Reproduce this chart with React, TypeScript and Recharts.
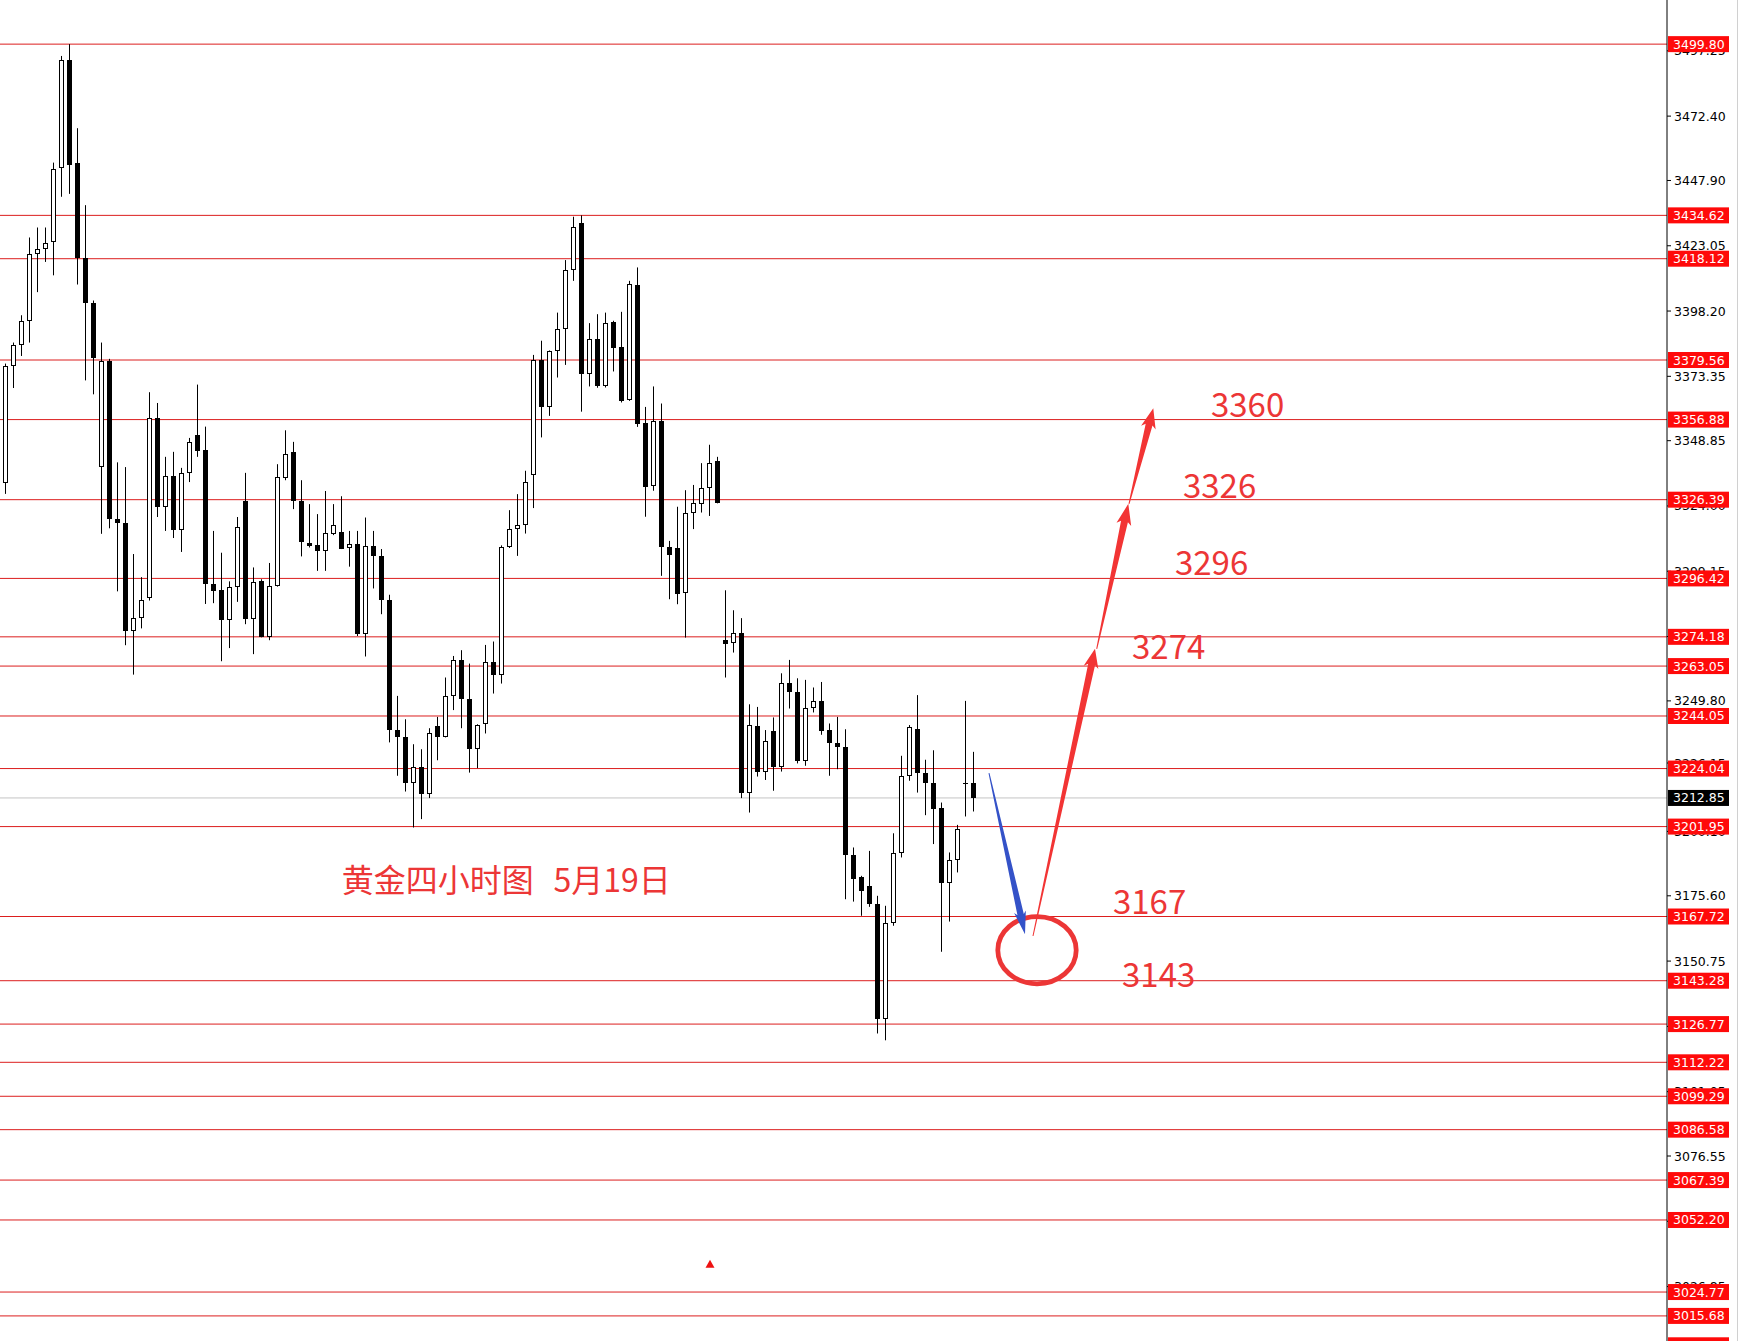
import React from 'react';
import { ComposedChart, Bar, XAxis, YAxis, ReferenceLine, ReferenceArea, ReferenceDot } from 'recharts';

// ---- candle data (4H gold), index 0..122 ----
const OPEN = [
  3327.5, 3332.6, 3377.1, 3385.1, 3394.5, 3420.1, 3422.0, 3424.6, 3452.8, 3493.9,
  3454.4, 3418.5, 3401.4, 3339.0, 3379.2, 3319.0, 3317.7, 3276.3, 3281.4, 3289.1,
  3357.4, 3323.5, 3335.3, 3315.0, 3336.6, 3351.0, 3345.4, 3294.2, 3292.1, 3280.6,
  3293.1, 3325.7, 3280.9, 3295.5, 3274.3, 3293.5, 3334.8, 3344.6, 3325.9, 3309.9,
  3309.2, 3306.7, 3313.5, 3314.0, 3307.9, 3309.5, 3275.4, 3308.8, 3305.0, 3288.1,
  3238.6, 3236.2, 3218.5, 3224.8, 3214.3, 3240.3, 3236.2, 3251.7, 3265.3, 3250.4,
  3231.4, 3240.9, 3264.7, 3259.7, 3308.3, 3315.2, 3316.7, 3335.6, 3379.5, 3361.5,
  3382.9, 3391.3, 3413.9, 3431.6, 3374.4, 3387.5, 3369.5, 3394.1, 3384.6, 3364.4,
  3408.0, 3355.4, 3331.6, 3356.2, 3308.4, 3307.9, 3291.0, 3321.3, 3324.7, 3330.8,
  3341.2, 3273.0, 3271.8, 3275.8, 3214.9, 3240.3, 3222.9, 3238.4, 3224.8, 3256.5,
  3253.2, 3227.0, 3247.0, 3249.8, 3238.7, 3233.7, 3232.3, 3191.1, 3182.6, 3179.4,
  3172.4, 3128.6, 3165.3, 3191.8, 3221.3, 3239.0, 3222.3, 3218.7, 3209.0, 3180.3,
  3189.2, 3218.6, 3218.4,
];
const HIGH = [
  3329.0, 3378.2, 3386.2, 3396.6, 3426.2, 3430.0, 3430.0, 3454.7, 3495.3, 3499.8,
  3467.8, 3438.5, 3402.2, 3386.2, 3380.0, 3340.6, 3338.8, 3305.7, 3296.9, 3367.3,
  3363.2, 3342.7, 3344.6, 3338.5, 3349.9, 3370.2, 3354.2, 3314.5, 3306.2, 3295.3,
  3319.8, 3336.6, 3300.6, 3296.1, 3302.3, 3339.9, 3352.8, 3348.4, 3333.8, 3324.7,
  3320.9, 3329.7, 3324.7, 3327.7, 3314.5, 3314.5, 3319.6, 3314.5, 3307.6, 3290.2,
  3251.7, 3242.8, 3233.3, 3231.4, 3239.4, 3243.7, 3258.7, 3266.9, 3269.1, 3264.0,
  3240.9, 3271.1, 3272.4, 3309.0, 3322.4, 3328.5, 3337.4, 3381.5, 3386.9, 3383.2,
  3397.6, 3417.6, 3434.1, 3434.62, 3393.6, 3397.0, 3397.6, 3394.5, 3397.9, 3409.7,
  3414.8, 3361.7, 3369.5, 3363.0, 3310.7, 3323.7, 3330.0, 3332.0, 3340.3, 3347.3,
  3342.7, 3291.9, 3284.3, 3281.3, 3248.5, 3247.5, 3238.7, 3243.5, 3260.3, 3265.4,
  3258.4, 3257.8, 3254.9, 3257.0, 3241.2, 3243.7, 3239.0, 3194.0, 3183.2, 3192.7,
  3175.6, 3171.8, 3199.4, 3228.9, 3240.6, 3252.0, 3227.4, 3231.0, 3211.1, 3192.1,
  3202.6, 3249.8, 3230.4,
];
const LOW = [
  3318.0, 3328.6, 3368.9, 3381.1, 3386.2, 3405.4, 3416.9, 3411.8, 3441.7, 3442.8,
  3408.3, 3371.8, 3366.5, 3313.4, 3315.5, 3291.5, 3271.0, 3259.8, 3277.4, 3288.0,
  3319.8, 3314.5, 3311.8, 3306.5, 3333.1, 3342.7, 3286.7, 3287.0, 3264.9, 3269.9,
  3287.5, 3279.0, 3267.6, 3274.0, 3272.9, 3293.3, 3333.8, 3322.8, 3304.8, 3308.2,
  3299.3, 3299.3, 3312.9, 3307.6, 3300.9, 3274.5, 3266.7, 3292.6, 3282.8, 3234.0,
  3221.3, 3215.3, 3201.6, 3204.8, 3212.8, 3227.2, 3235.9, 3246.3, 3239.4, 3222.5,
  3224.2, 3237.4, 3252.6, 3256.4, 3308.0, 3305.0, 3313.5, 3323.2, 3350.1, 3358.3,
  3372.9, 3377.7, 3409.7, 3359.9, 3369.5, 3369.0, 3369.1, 3375.2, 3363.4, 3364.0,
  3354.1, 3319.9, 3329.8, 3297.4, 3288.5, 3286.6, 3273.9, 3315.2, 3321.5, 3320.2,
  3325.0, 3258.7, 3268.2, 3212.8, 3207.3, 3221.0, 3219.7, 3215.6, 3222.9, 3246.9,
  3226.0, 3225.1, 3245.4, 3236.9, 3221.3, 3223.8, 3174.3, 3173.4, 3168.0, 3171.4,
  3123.2, 3120.6, 3164.2, 3190.2, 3219.4, 3214.9, 3206.3, 3195.3, 3154.3, 3165.8,
  3184.5, 3205.8, 3207.7,
];
const CLOSE = [
  3320.5, 3377.1, 3385.1, 3394.5, 3420.1, 3422.0, 3424.0, 3452.4, 3493.9, 3453.9,
  3418.5, 3401.4, 3380.3, 3379.2, 3319.0, 3317.4, 3276.3, 3281.4, 3288.3, 3357.4,
  3323.5, 3335.3, 3315.0, 3336.6, 3348.3, 3345.1, 3294.2, 3291.8, 3280.6, 3293.1,
  3316.1, 3281.1, 3295.1, 3274.3, 3293.5, 3335.1, 3343.7, 3325.9, 3310.1, 3308.9,
  3306.7, 3313.6, 3316.8, 3307.8, 3309.5, 3275.4, 3308.8, 3304.8, 3288.1, 3238.6,
  3236.2, 3218.5, 3224.8, 3214.3, 3237.5, 3236.2, 3251.7, 3265.3, 3250.4, 3231.4,
  3240.7, 3264.7, 3259.7, 3308.3, 3315.2, 3316.7, 3333.3, 3379.5, 3361.5, 3382.9,
  3391.3, 3413.9, 3430.3, 3374.4, 3387.5, 3369.5, 3393.8, 3384.3, 3364.0, 3408.4,
  3355.1, 3331.4, 3356.2, 3308.2, 3305.4, 3290.6, 3321.3, 3325.1, 3330.8, 3340.5,
  3325.3, 3271.6, 3275.8, 3214.9, 3240.6, 3222.9, 3234.5, 3224.7, 3256.5, 3253.0,
  3227.0, 3247.0, 3249.8, 3238.4, 3233.6, 3232.1, 3191.1, 3181.9, 3177.5, 3172.4,
  3128.6, 3165.3, 3191.8, 3221.3, 3239.7, 3222.2, 3218.4, 3208.8, 3180.3, 3189.2,
  3201.0, 3218.2, 3212.85,
];

// horizontal levels drawn on the chart (red), plus current price
const RED_LEVELS = [
  3499.8, 3434.62, 3418.12, 3379.56, 3356.88, 3326.39, 3296.42, 3274.18, 3263.05,
  3244.05, 3224.04, 3201.95, 3167.72, 3143.28, 3126.77, 3112.22, 3099.29, 3086.58,
  3067.39, 3052.2, 3024.77, 3015.68, 3004.5,
];
const CURRENT_PRICE = 3212.85;

// price-scale tick labels
const AXIS_TICKS = [
  3497.25, 3472.4, 3447.9, 3423.05, 3398.2, 3373.35, 3348.85, 3324.0, 3299.15, 3274.3,
  3249.8, 3226.15, 3200.1, 3175.6, 3150.75, 3125.9, 3101.05, 3076.55, 3051.7, 3026.85,
];

const SLOTS = 209; // visible bar slots on the time axis
const Y_DOMAIN: [number, number] = [2998.9, 3516.6];
const X_DOMAIN: [number, number] = [-0.5, 208.625];

// annotations in (bar index, price) units
const TITLE_PARTS = [
  { text: '黄金四小时图', i: 42.96, p: 3182.56 },
  { text: '5月19日', i: 69.44, p: 3182.56 },
];
const TARGET_LABELS = [
  { text: '3360', i: 151.62, p: 3363.1 },
  { text: '3326', i: 148.12, p: 3332.4 },
  { text: '3296', i: 147.12, p: 3302.9 },
  { text: '3274', i: 141.75, p: 3271.1 },
  { text: '3167', i: 139.37, p: 3174.1 },
  { text: '3143', i: 140.5, p: 3146.3 },
];
const ARROWS = [
  { from: [123.875, 3222.3], to: [128.375, 3161.0], color: '#3452c8', shaft: 6.5, head: 12, headLen: 20 },
  { from: [129.375, 3160.3], to: [137.125, 3269.6], color: '#f23434', shaft: 7, head: 15, headLen: 16 },
  { from: [137.34, 3269.6], to: [141.29, 3324.8], color: '#f23434', shaft: 7, head: 15, headLen: 18 },
  { from: [141.375, 3324.8], to: [144.41, 3361.2], color: '#f23434', shaft: 7, head: 15, headLen: 17 },
];
const CIRCLE = { i1: 124.675, i2: 135.075, p1: 3141.2, p2: 3168.6 };
const MARKER = { i: 89, p: 3035.5 };

const data = Array.from({ length: SLOTS }, (_, i) =>
  i < OPEN.length
    ? { i, o: OPEN[i], h: HIGH[i], l: LOW[i], c: CLOSE[i] }
    : { i, o: null, h: null, l: null, c: null }
);

const RED_SET = new Set(RED_LEVELS);
const LEVEL_RED = '#dc1e1e';
const ANNOT_RED = '#ec3636';

const Candle = (props: any) => {
  const { x, y, width, height, payload } = props;
  if (!payload || payload.o == null) return null;
  const { o, h, l, c } = payload;
  const top = Math.min(y, y + height);
  const hpx = Math.abs(height);
  const ppx = hpx / (h - l);
  const py = (p: number) => top + (h - p) * ppx;
  const cx = Math.round(x + width / 2);
  const bt = Math.round(py(Math.max(o, c)));
  const bb = Math.round(py(Math.min(o, c)));
  const bull = c > o;
  return (
    <g>
      <rect x={cx - 1} y={top} width={1} height={hpx} fill="#000" />
      {bull ? (
        <rect x={cx - 2.5} y={bt + 0.5} width={4} height={Math.max(bb - bt - 1, 0.5)} fill="#fff" stroke="#000" strokeWidth={1} />
      ) : (
        <rect x={cx - 3} y={bt} width={5} height={Math.max(bb - bt, 1)} fill="#000" />
      )}
    </g>
  );
};

const AxisTick = (props: any) => {
  const { x, y, payload } = props;
  const v = payload.value as number;
  const label = v.toFixed(2);
  const font = { fontFamily: 'DejaVu Sans', fontSize: 12.5 };
  if (v === CURRENT_PRICE || RED_SET.has(v)) {
    const bg = v === CURRENT_PRICE ? '#000' : '#ff0a0a';
    return (
      <g>
        <rect x={x + 1} y={y - 8} width={61} height={16} fill={bg} />
        <text x={x + 6} y={y} dominantBaseline="central" fill="#fff" {...font}>{label}</text>
      </g>
    );
  }
  return (
    <g>
      <line x1={x} x2={x + 4} y1={y} y2={y} stroke="#000" />
      <text x={x + 7} y={y} dominantBaseline="central" fill="#000" {...font}>{label}</text>
    </g>
  );
};

const arrowShape = (a: typeof ARROWS[number]) => (props: any) => {
  const { x1, y1, x2, y2 } = props;
  const dx = x2 - x1, dy = y2 - y1;
  const len = Math.hypot(dx, dy);
  const ux = dx / len, uy = dy / len;
  const nx = -uy, ny = ux;
  const bx = x2 - ux * a.headLen, by = y2 - uy * a.headLen;
  const pts = [
    [x1 + nx * 0.5, y1 + ny * 0.5],
    [bx + (nx * a.shaft) / 2, by + (ny * a.shaft) / 2],
    [bx + (nx * a.head) / 2 - ux * 3, by + (ny * a.head) / 2 - uy * 3],
    [x2, y2],
    [bx - (nx * a.head) / 2 - ux * 3, by - (ny * a.head) / 2 - uy * 3],
    [bx - (nx * a.shaft) / 2, by - (ny * a.shaft) / 2],
    [x1 - nx * 0.5, y1 - ny * 0.5],
  ];
  return <polygon points={pts.map((p) => p.join(',')).join(' ')} fill={a.color} />;
};

const textShape = (text: string, size: number) => (props: any) => (
  <text x={props.cx} y={props.cy} dominantBaseline="central" fill={ANNOT_RED}
    fontFamily="'Noto Sans CJK SC', 'Noto Sans', sans-serif" fontSize={size}>{text}</text>
);

const ellipseShape = (props: any) => {
  const { x, y, width, height } = props;
  const sw = 4.8;
  return (
    <ellipse cx={x + width / 2} cy={y + height / 2} rx={width / 2 - sw / 2} ry={height / 2 - sw / 2}
      fill="none" stroke={ANNOT_RED} strokeWidth={sw} />
  );
};

const markerShape = (props: any) => {
  const { cx, cy } = props;
  return <polygon points={`${cx - 4.5},${cy + 4} ${cx + 4.5},${cy + 4} ${cx},${cy - 4}`} fill="#ee1111" />;
};

export default function App() {
  return (
    <>
      <style>{`body{margin:0;overflow:hidden;background:#fff}`}</style>
      <div style={{ position: 'absolute', left: -6, top: 0, width: 1746, height: 1360 }}>
        <ComposedChart width={1746} height={1360} data={data} margin={{ top: 0, right: 0, bottom: 0, left: 0 }}
          barCategoryGap={0} barGap={0}>
          <XAxis xAxisId="c" dataKey="i" type="category" hide padding={{ left: 0, right: 1 }} />
          <XAxis xAxisId="n" dataKey="i" type="number" hide domain={X_DOMAIN} allowDataOverflow />
          <YAxis orientation="right" width={73} type="number" domain={Y_DOMAIN} allowDataOverflow
            ticks={[...AXIS_TICKS, ...RED_LEVELS, CURRENT_PRICE]} interval={0}
            tick={<AxisTick />} tickLine={false} tickSize={0} tickMargin={0}
            axisLine={{ stroke: '#000', strokeWidth: 1 }} />
          {RED_LEVELS.map((lv) => (
            <ReferenceLine key={lv} xAxisId="c" y={lv} stroke={LEVEL_RED} strokeWidth={1} zIndex={50} />
          ))}
          <ReferenceLine xAxisId="c" y={CURRENT_PRICE} stroke="#c4c4c4" strokeWidth={1} zIndex={50} />
          <Bar xAxisId="c" dataKey={(d: any) => (d.o == null ? null : [d.l, d.h])} shape={<Candle />}
            isAnimationActive={false} />
          {ARROWS.map((a, k) => (
            <ReferenceLine key={'a' + k} xAxisId="n"
              segment={[{ x: a.from[0], y: a.from[1] }, { x: a.to[0], y: a.to[1] }]}
              shape={arrowShape(a)} />
          ))}
          <ReferenceArea xAxisId="n" x1={CIRCLE.i1} x2={CIRCLE.i2} y1={CIRCLE.p1} y2={CIRCLE.p2} shape={ellipseShape} />
          <ReferenceDot xAxisId="n" x={MARKER.i} y={MARKER.p} r={4} shape={markerShape} />
          {TITLE_PARTS.map((t) => (
            <ReferenceDot key={t.text} xAxisId="n" x={t.i} y={t.p} r={1} shape={textShape(t.text, 32)} />
          ))}
          {TARGET_LABELS.map((t) => (
            <ReferenceDot key={t.text} xAxisId="n" x={t.i} y={t.p} r={1} shape={textShape(t.text, 33)} />
          ))}
        </ComposedChart>
      </div>
      <div style={{ position: 'absolute', left: 1737, top: 0, width: 1, height: 1341, background: '#d0d0d0' }} />
    </>
  );
}
